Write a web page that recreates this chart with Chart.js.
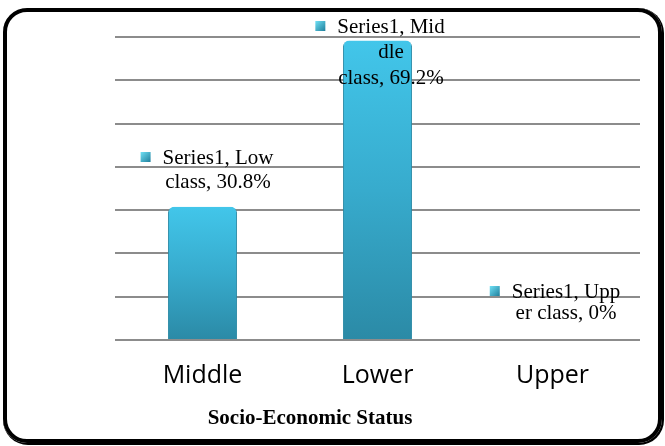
<!DOCTYPE html>
<html>
<head>
<meta charset="utf-8">
<script src="https://cdn.jsdelivr.net/npm/chart.js@4/dist/chart.umd.min.js"></script>
<style>
    html, body { margin: 0; padding: 0; background: #fff; }
    body { width: 665px; height: 446px; position: relative; overflow: hidden; }
    .moldura {
        position: absolute; left: 3px; top: 8px; width: 659px; height: 435px;
        box-sizing: border-box; border: 4px solid #000; border-radius: 24px;
        box-shadow: 1px 1px 0 1px #000;
    }
    #grafico { position: absolute; left: 0; top: 0; }
</style>
</head>
<body>
<div class="moldura"></div>
<canvas id="grafico" width="665" height="446"></canvas>
<script>
const categorias = ['Middle', 'Lower', 'Upper'];
const valores = [30.8, 69.2, 0];
const rotulos = [
    ['Series1, Low', 'class, 30.8%'],
    ['Series1, Mid', 'dle', 'class, 69.2%'],
    ['Series1, Upp', 'er class, 0%']
];
const tituloEixo = 'Socio-Economic Status';

// onde cada rótulo fica: [x do centro do texto, y da primeira linha, altura da linha]
const POS_ROTULOS = [
    [218, 158, 24],
    [391, 27, 25.5],
    [566, 292, 21.5]
];

const GRID_COLOR = '#8c8c8c';

function corBarra(ctx) {
    const chart = ctx.chart;
    const area = chart.chartArea;
    if (!area) return '#35aed0';
    const y = chart.scales.y;
    const topo = y.getPixelForValue(ctx.raw);
    const g = chart.ctx.createLinearGradient(0, topo, 0, area.bottom);
    g.addColorStop(0, '#42c6ea');
    g.addColorStop(0.5, '#37abcd');
    g.addColorStop(1, '#2b8aa6');
    return g;
}

function desenharMarcador(c, x, y) {
    const g = c.createLinearGradient(x, y, x + 10, y + 10);
    g.addColorStop(0, '#6fe0f5');
    g.addColorStop(1, '#1f7f9c');
    c.fillStyle = g;
    c.fillRect(x, y, 10, 10);
}

const rotulosPlugin = {
    id: 'rotulos',
    afterDatasetsDraw(chart) {
        const c = chart.ctx;
        c.save();
        c.font = '21px "Liberation Serif", "Times New Roman", serif';
        c.textAlign = 'center';
        c.textBaseline = 'middle';
        rotulos.forEach((linhas, i) => {
            const [cx, y0, lh] = POS_ROTULOS[i];
            const w = c.measureText(linhas[0]).width;
            desenharMarcador(c, cx - w / 2 - 22, y0 - 6);
            c.fillStyle = '#000';
            linhas.forEach((t, j) => c.fillText(t, cx, y0 + j * lh));
        });
        c.fillStyle = '#000';
        c.font = 'bold 21px "Liberation Serif", "Times New Roman", serif';
        c.fillText(tituloEixo, 310, 419);
        c.restore();
    }
};

const ctx = document.getElementById('grafico').getContext('2d');
const grafico = new Chart(ctx, {
    type: 'bar',
    data: {
        labels: categorias,
        datasets: [{
            label: 'Series1',
            data: valores,
            backgroundColor: corBarra,
            borderColor: '#2a89a5',
            borderWidth: { left: 1, right: 1, top: 0, bottom: 0 },
            borderSkipped: 'bottom',
            borderRadius: { topLeft: 6, topRight: 6 },
            barPercentage: 1,
            categoryPercentage: 0.395
        }]
    },
    options: {
        responsive: false,
        animation: false,
        layout: { padding: { left: 115, right: 25, top: 37, bottom: 42 } },
        plugins: {
            legend: { display: false },
            tooltip: { enabled: false }
        },
        scales: {
            x: {
                grid: { display: false },
                border: { display: false },
                ticks: {
                    color: '#000',
                    padding: 13,
                    font: { family: '"Open Sans", sans-serif', size: 25 }
                }
            },
            y: {
                min: 0,
                max: 70,
                grid: { color: GRID_COLOR, lineWidth: 2, drawTicks: false },
                border: { display: false },
                ticks: { display: false, stepSize: 10 }
            }
        }
    },
    plugins: [rotulosPlugin]
});
</script>
</body>
</html>
